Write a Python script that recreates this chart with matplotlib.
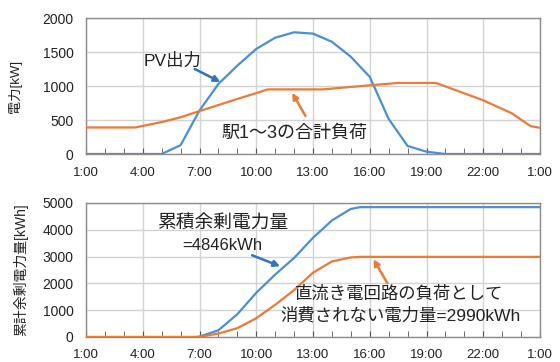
import matplotlib
matplotlib.use("Agg")
import matplotlib.pyplot as plt
from matplotlib.ticker import FixedLocator, MultipleLocator

plt.rcParams['font.family'] = ['Liberation Sans', 'Noto Sans CJK JP']

# ---------------- data ----------------
pv_hours = list(range(1, 26))
pv_kw = [0, 0, 0, 0, 0, 130, 640, 1030, 1300, 1545, 1710, 1790, 1770, 1650,
         1430, 1135, 515, 118, 34, 0, 0, 0, 0, 0, 0]

load_hours = [1, 3.6, 5, 6, 7, 8, 9, 10, 10.6, 13.5, 16, 17.5, 19.5, 22, 23.5, 24.5, 25]
load_kw = [390, 390, 470, 540, 632, 720, 810, 895, 950, 950, 1010, 1045, 1045,
           790, 600, 410, 385]

cum_hours_surplus = [1, 6.8, 7, 8, 9, 10, 11, 12, 13, 14, 15, 15.5, 25]
cum_surplus_kwh = [0, 0, 15, 250, 850, 1650, 2330, 2950, 3700, 4350, 4780, 4846, 4846]

cum_hours_dc = [1, 7, 8, 9, 10, 11, 12, 13, 14, 15, 15.5, 25]
cum_dc_kwh = [0, 0, 130, 330, 700, 1200, 1750, 2400, 2820, 2970, 2990, 2990]

xtick_hours = [1, 4, 7, 10, 13, 16, 19, 22, 25]
xtick_labels = ["1:00", "4:00", "7:00", "10:00", "13:00", "16:00", "19:00", "22:00", "1:00"]

top_yticks = [0, 500, 1000, 1500, 2000]
bot_yticks = [0, 1000, 2000, 3000, 4000, 5000]

# ---------------- style ----------------
BLUE = '#4A90D6'
ORANGE = '#EE7A35'
ARROW_BLUE = '#2E74C0'
GRID = '#D3D3D3'
SPINE = '#8C8C8C'
TXT = '#222222'

fig = plt.figure(figsize=(5.6, 3.62), dpi=100)
W, H = 560, 362
def axrect(l, t, r, b):
    return [l / W, 1 - b / H, (r - l) / W, (b - t) / H]

ax1 = fig.add_axes(axrect(86, 18, 540, 154))
ax2 = fig.add_axes(axrect(86, 203, 540, 337))

for ax, yt in ((ax1, top_yticks), (ax2, bot_yticks)):
    ax.set_xlim(1, 25)
    ax.set_ylim(yt[0], yt[-1])
    ax.xaxis.set_major_locator(FixedLocator(xtick_hours))
    ax.set_xticklabels(xtick_labels)
    ax.xaxis.set_minor_locator(MultipleLocator(1))
    ax.set_yticks(yt)
    ax.grid(True, which='major', color=GRID, lw=1.0)
    ax.set_axisbelow(True)
    for s in ax.spines.values():
        s.set_color(SPINE)
        s.set_linewidth(1.0)
    ax.tick_params(axis='x', which='both', direction='in', length=4, color='#555555',
                   labelsize=9.5, pad=9, labelcolor=TXT)
    ax.tick_params(axis='y', which='both', length=0, labelsize=10, pad=9, labelcolor=TXT)

# top chart
ax1.plot(pv_hours, pv_kw, color=BLUE, lw=1.6, zorder=3)
ax1.plot(load_hours, load_kw, color=ORANGE, lw=1.6, zorder=4)
ax1.set_ylabel("電力[kW]", fontsize=9.5, color=TXT)
ax1.yaxis.set_label_coords(-0.141, 0.5)

ax1.annotate("", xy=(8.1, 1060), xytext=(6.75, 1250),
             arrowprops=dict(arrowstyle='-|>', color=ARROW_BLUE, lw=1.8, mutation_scale=9,
                             shrinkA=0, shrinkB=0), zorder=6)
ax1.text(5.6, 1370, "PV出力", fontsize=12.5, color=TXT, ha='center', va='center', zorder=6)

ax1.annotate("", xy=(11.9, 900), xytext=(12.6, 560),
             arrowprops=dict(arrowstyle='-|>', color=ORANGE, lw=1.8, mutation_scale=9,
                             shrinkA=0, shrinkB=0), zorder=6)
ax1.text(12.0, 300, "駅1～3の合計負荷", fontsize=13, color=TXT, ha='center', va='center', zorder=6)

# bottom chart
ax2.plot(cum_hours_surplus, cum_surplus_kwh, color=BLUE, lw=1.6, zorder=3)
ax2.plot(cum_hours_dc, cum_dc_kwh, color=ORANGE, lw=1.6, zorder=4)
ax2.set_ylabel("累計余剰電力量[kWh]", fontsize=10, color=TXT)
ax2.yaxis.set_label_coords(-0.128, 0.5)

ax2.text(8.2, 4250, "累積余剰電力量", fontsize=13.5, color=TXT, ha='center', va='center', zorder=6)
ax2.text(8.2, 3420, "=4846kWh", fontsize=12, color=TXT, ha='center', va='center', zorder=6)
ax2.annotate("", xy=(11.26, 2640), xytext=(9.78, 3050),
             arrowprops=dict(arrowstyle='-|>', color=ARROW_BLUE, lw=1.8, mutation_scale=9,
                             shrinkA=0, shrinkB=0), zorder=6)

ax2.text(17.56, 1620, "直流き電回路の負荷として", fontsize=12.5, color=TXT,
         ha='center', va='center', zorder=6)
ax2.text(17.6, 810, "消費されない電力量=2990kWh", fontsize=12.5, color=TXT,
         ha='center', va='center', zorder=6)
ax2.annotate("", xy=(16.2, 2900), xytext=(16.93, 2010),
             arrowprops=dict(arrowstyle='-|>', color=ORANGE, lw=1.8, mutation_scale=9,
                             shrinkA=0, shrinkB=0), zorder=6)

fig.savefig("out.png", dpi=100)
